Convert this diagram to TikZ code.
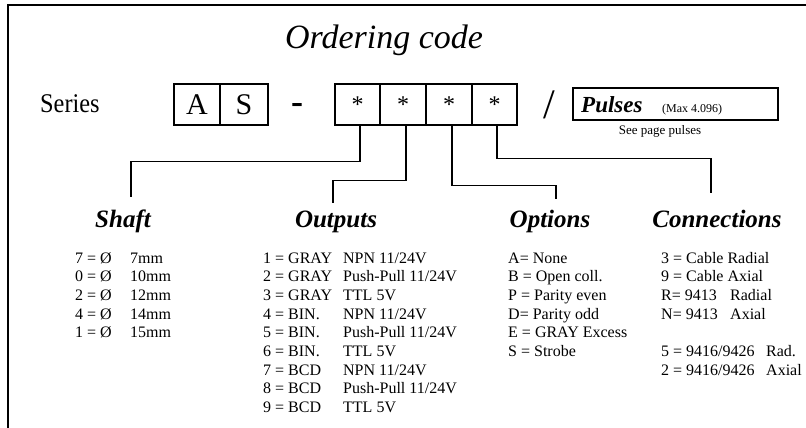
\documentclass[tikz,border=0pt]{standalone}
\usepackage{fontspec}
\setmainfont{Liberation Serif}
\begin{document}
\begin{tikzpicture}[x=1pt,y=-1pt,
  cellbox/.style={draw,line width=1.3pt,minimum height=41pt,inner sep=0pt,font=\fontsize{30}{30}\selectfont},
  starbox/.style={cellbox,font=\fontsize{24}{24}\selectfont},
  conn/.style={line width=1.2pt},
  heading/.style={font=\fontsize{25}{25}\selectfont\bfseries\itshape,inner sep=0pt,anchor=base},
  listtxt/.style={font=\fontsize{16}{18.7}\selectfont,inner sep=0pt,anchor=base west},
  plain/.style={inner sep=0pt}
]
\useasboundingbox (0,0) rectangle (806,428);
\draw[line width=2pt] (8,440) -- (8,5) -- (820,5);

\node[plain,anchor=base,font=\fontsize{34}{34}\selectfont\itshape] (title) at (384,49) {Ordering code};
\node[plain,anchor=base west,font=\fontsize{27}{27}\selectfont] (series) at (40,113) {\scalebox{0.9}[1]{Series}};

\node[cellbox,minimum width=46pt] (a) at (197,104.5) {A};
\node[cellbox,minimum width=48pt] (s) at (244,104.5) {S};
\node[plain,font=\fontsize{36}{36}\selectfont\bfseries] (dash) at (297,108) {-};
\node[starbox,minimum width=45pt] (c1) at (357.5,104.5) {*};
\node[starbox,minimum width=46pt] (c2) at (403,104.5) {*};
\node[starbox,minimum width=46pt] (c3) at (449,104.5) {*};
\node[starbox,minimum width=45pt] (c4) at (494.5,104.5) {*};
\node[plain,font=\fontsize{42}{42}\selectfont] (slash) at (549.5,105) {/};
\node[draw,line width=1.3pt,minimum width=205pt,minimum height=32pt,inner sep=0pt] (pulses) at (675.5,104) {};
\node[plain,anchor=base west,font=\fontsize{23}{23}\selectfont\bfseries\itshape] (pl) at (581,112) {Pulses};
\node[plain,anchor=base west,font=\fontsize{12}{12}\selectfont] (max) at (662,112) {(Max 4.096)};
\node[plain,anchor=base,font=\fontsize{13}{13}\selectfont] (see) at (660,134) {See page pulses};

\node[heading] (shaft) at (123,227) {Shaft};
\node[heading] (outputs) at (336,227) {Outputs};
\node[heading] (options) at (550,227) {Options};
\node[heading] (connections) at (717,227) {Connections};

\coordinate (e1) at (131,197);
\coordinate (e2) at (333,203);
\coordinate (e3) at (556,199);
\coordinate (e4) at (711,193);
\draw[conn] ([xshift=2.5pt]c1.south) -- ++(0,36) -| (e1);
\draw[conn] ([xshift=3pt]c2.south) -- ++(0,55) -| (e2);
\draw[conn] ([xshift=3pt]c3.south) -- ++(0,60) -| (e3);
\draw[conn] ([xshift=2.5pt]c4.south) -- ++(0,33) -| (e4);

\node[listtxt] (shaftlist) at (75,263) {\begin{tabular}[t]{@{}p{55pt}@{}l@{}}
7 = Ø & 7mm\\ 0 = Ø & 10mm\\ 2 = Ø & 12mm\\ 4 = Ø & 14mm\\ 1 = Ø & 15mm
\end{tabular}};
\node[listtxt] (outlist) at (263,263) {\begin{tabular}[t]{@{}p{80pt}@{}l@{}}
1 = GRAY & NPN 11/24V\\
2 = GRAY & Push-Pull 11/24V\\
3 = GRAY & TTL 5V\\
4 = BIN. & NPN 11/24V\\
5 = BIN. & Push-Pull 11/24V\\
6 = BIN. & TTL 5V\\
7 = BCD & NPN 11/24V\\
8 = BCD & Push-Pull 11/24V\\
9 = BCD & TTL 5V
\end{tabular}};
\node[listtxt] (optlist) at (508,263) {\begin{tabular}[t]{@{}l@{}}
A= None\\ B = Open coll.\\ P = Parity even\\ D= Parity odd\\ E = GRAY Excess\\ S = Strobe
\end{tabular}};
\node[listtxt] (connlist) at (661,263) {\begin{tabular}[t]{@{}l@{}}
3 = Cable Radial\\
9 = Cable Axial\\
\makebox[69pt][l]{R= 9413}Radial\\
\makebox[69pt][l]{N= 9413}Axial\\
\mbox{}\\
\makebox[105pt][l]{5 = 9416/9426}Rad.\\
\makebox[105pt][l]{2 = 9416/9426}Axial
\end{tabular}};
\end{tikzpicture}
\end{document}
